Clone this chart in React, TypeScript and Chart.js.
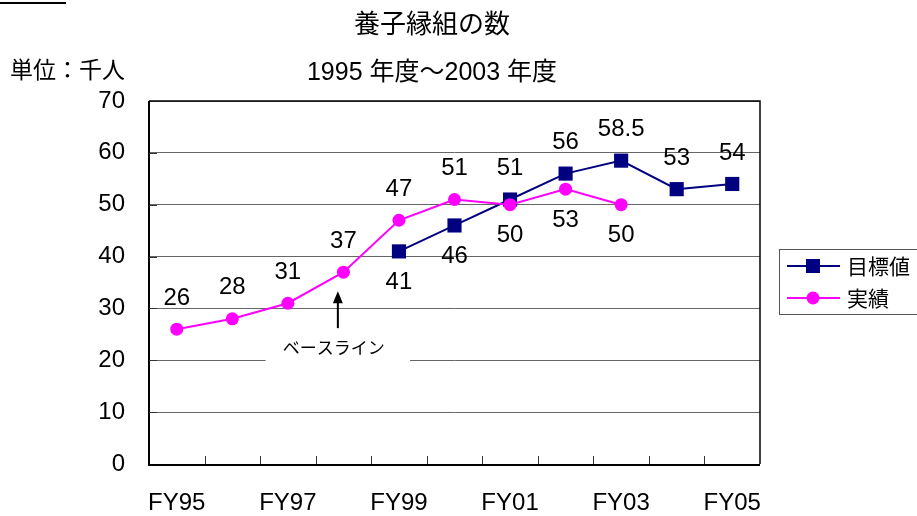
import React, { useEffect, useRef } from 'react';
import { Chart, registerables } from 'chart.js';

Chart.register(...registerables);

// ---- data ----
const CATEGORIES = ['FY95', 'FY96', 'FY97', 'FY98', 'FY99', 'FY00', 'FY01', 'FY02', 'FY03', 'FY04', 'FY05'];
const TARGET: (number | null)[] = [null, null, null, null, 41, 46, 51, 56, 58.5, 53, 54];
const ACTUAL: (number | null)[] = [26, 28, 31, 37, 47, 51, 50, 53, 50, null, null];
const Y_MIN = 0;
const Y_MAX = 70;
const Y_STEP = 10;
const TITLE = '養子縁組の数';
const SUBTITLE = '1995 年度～2003 年度';
const UNIT = '単位：千人';
const SERIES_NAMES = ['目標値', '実績'];
const ANNOTATION = 'ベースライン';

// label placement (true = below the point)
const TARGET_BELOW = [false, false, false, false, true, true, false, false, false, false, false];
const ACTUAL_BELOW = [false, false, false, false, false, false, true, true, true, false, false];

const NAVY = '#000080';
const MAGENTA = '#ff00ff';
const NUM_FONT = '"Liberation Sans", Arial, sans-serif';
const JP_FONT = '"Noto Sans CJK JP", sans-serif';
const MIX_FONT = '"Liberation Sans", "Noto Sans CJK JP", sans-serif';

const overlayPlugin = {
  id: 'overlay',
  afterDraw(chart: any) {
    const ctx: CanvasRenderingContext2D = chart.ctx;
    const { left, right, top, bottom } = chart.chartArea;
    const xs = chart.scales.x;
    const ys = chart.scales.y;
    ctx.save();

    // plot border
    ctx.strokeStyle = '#000';
    ctx.lineWidth = 1.5;
    ctx.beginPath();
    ctx.moveTo(left, top);
    ctx.lineTo(right, top);
    ctx.lineTo(right, bottom);
    ctx.stroke();
    ctx.lineWidth = 2;
    ctx.beginPath();
    ctx.moveTo(left, top);
    ctx.lineTo(left, bottom + 1);
    ctx.lineTo(right, bottom + 1);
    ctx.stroke();

    // inside tick marks on x axis (between categories)
    ctx.lineWidth = 1;
    ctx.strokeStyle = '#333';
    for (let i = 1; i < CATEGORIES.length; i++) {
      const x = Math.round((xs.getPixelForValue(i - 1) + xs.getPixelForValue(i)) / 2) + 0.5;
      ctx.beginPath();
      ctx.moveTo(x, bottom);
      ctx.lineTo(x, bottom - 8);
      ctx.stroke();
    }
    // inside tick marks on y axis
    for (let v = Y_MIN + Y_STEP; v < Y_MAX; v += Y_STEP) {
      const y = Math.round(ys.getPixelForValue(v)) + 0.5;
      ctx.beginPath();
      ctx.moveTo(left, y);
      ctx.lineTo(left + 8, y);
      ctx.stroke();
    }

    // annotation: white box, text, arrow
    const bx1 = xs.getPixelForValue(1.6);
    const bx2 = xs.getPixelForValue(4.2);
    const by1 = ys.getPixelForValue(25.5);
    const by2 = ys.getPixelForValue(19.2);
    ctx.fillStyle = '#fff';
    ctx.fillRect(bx1, by1, bx2 - bx1, by2 - by1);
    ctx.fillStyle = '#000';
    ctx.font = `17px ${JP_FONT}`;
    ctx.textAlign = 'center';
    ctx.textBaseline = 'middle';
    const ax = xs.getPixelForValue(2.9);
    ctx.fillText(ANNOTATION, ax - 4, ys.getPixelForValue(22.5));
    const tipY = ys.getPixelForValue(33.3);
    const baseY = ys.getPixelForValue(26.2);
    ctx.strokeStyle = '#000';
    ctx.lineWidth = 2;
    ctx.beginPath();
    ctx.moveTo(ax, baseY);
    ctx.lineTo(ax, tipY + 8);
    ctx.stroke();
    ctx.beginPath();
    ctx.moveTo(ax, tipY);
    ctx.lineTo(ax - 5, tipY + 12);
    ctx.lineTo(ax + 5, tipY + 12);
    ctx.closePath();
    ctx.fill();

    // data labels
    ctx.font = `24px ${NUM_FONT}`;
    ctx.fillStyle = '#000';
    ctx.textAlign = 'center';
    ctx.textBaseline = 'middle';
    const series = [
      { data: TARGET, below: TARGET_BELOW, idx: 0 },
      { data: ACTUAL, below: ACTUAL_BELOW, idx: 1 },
    ];
    series.forEach((s) => {
      const meta = chart.getDatasetMeta(s.idx);
      s.data.forEach((v, i) => {
        if (v === null) return;
        const pt = meta.data[i];
        const y = s.below[i] ? pt.y + 31 : pt.y - 31;
        ctx.fillText(String(v), pt.x, y);
      });
    });

    // title, subtitle, unit
    ctx.fillStyle = '#000';
    ctx.textAlign = 'center';
    ctx.font = `26px ${JP_FONT}`;
    ctx.fillText(TITLE, 432, 23);
    ctx.font = `25px ${MIX_FONT}`;
    ctx.fillText(SUBTITLE, 432, 73);
    ctx.textAlign = 'left';
    ctx.font = `23px ${JP_FONT}`;
    ctx.fillText(UNIT, 10, 69);

    // cut-off underline at the very top-left
    ctx.lineWidth = 2;
    ctx.beginPath();
    ctx.moveTo(0, 3);
    ctx.lineTo(66, 3);
    ctx.stroke();

    // legend
    const lx = 779;
    const ly = 249;
    ctx.fillStyle = '#fff';
    ctx.fillRect(lx, ly, 160, 65);
    ctx.strokeStyle = '#555';
    ctx.lineWidth = 1;
    ctx.strokeRect(lx + 0.5, ly + 0.5, 160, 65);
    const rows = [
      { name: SERIES_NAMES[0], color: NAVY, y: ly + 17, shape: 'rect' },
      { name: SERIES_NAMES[1], color: MAGENTA, y: ly + 49, shape: 'circle' },
    ];
    rows.forEach((r) => {
      ctx.strokeStyle = r.color;
      ctx.lineWidth = 2;
      ctx.beginPath();
      ctx.moveTo(lx + 8, r.y);
      ctx.lineTo(lx + 61, r.y);
      ctx.stroke();
      ctx.fillStyle = r.color;
      if (r.shape === 'rect') {
        ctx.fillRect(lx + 27, r.y - 7, 14, 14);
      } else {
        ctx.beginPath();
        ctx.arc(lx + 34, r.y, 6.5, 0, Math.PI * 2);
        ctx.fill();
      }
      ctx.fillStyle = '#000';
      ctx.font = `21px ${JP_FONT}`;
      ctx.textAlign = 'left';
      ctx.textBaseline = 'middle';
      ctx.fillText(r.name, lx + 68, r.y);
    });

    ctx.restore();
  },
};

export default function App() {
  const canvasRef = useRef<HTMLCanvasElement | null>(null);

  useEffect(() => {
    if (!canvasRef.current) return;
    const chart = new Chart(canvasRef.current, {
      type: 'line',
      data: {
        labels: CATEGORIES,
        datasets: [
          {
            label: SERIES_NAMES[0],
            data: TARGET,
            borderColor: NAVY,
            backgroundColor: NAVY,
            borderWidth: 2,
            pointStyle: 'rect',
            pointRadius: 10,
            pointBorderWidth: 0,
            pointBackgroundColor: NAVY,
            tension: 0,
            spanGaps: false,
            order: 2,
          },
          {
            label: SERIES_NAMES[1],
            data: ACTUAL,
            borderColor: MAGENTA,
            backgroundColor: MAGENTA,
            borderWidth: 2,
            pointStyle: 'circle',
            pointRadius: 6.5,
            pointBorderWidth: 0,
            pointBackgroundColor: MAGENTA,
            tension: 0,
            spanGaps: false,
            order: 1,
          },
        ],
      },
      options: {
        responsive: false,
        animation: false,
        events: [],
        layout: { padding: { top: 101, right: 157, left: 0, bottom: 0 } },
        plugins: {
          legend: { display: false },
          title: { display: false },
          tooltip: { enabled: false },
        },
        scales: {
          x: {
            offset: true,
            grid: { display: false, drawTicks: false },
            border: { display: false },
            ticks: {
              autoSkip: false,
              maxRotation: 0,
              padding: 25,
              color: '#000',
              font: { family: NUM_FONT, size: 24 },
              callback: (_v: any, i: number) => (i % 2 === 0 ? CATEGORIES[i] : ''),
            },
            afterFit: (scale: any) => {
              scale.height = 52;
            },
          },
          y: {
            min: Y_MIN,
            max: Y_MAX,
            grid: { color: '#666666', lineWidth: 1, drawTicks: false },
            border: { display: false },
            ticks: {
              stepSize: Y_STEP,
              padding: 24,
              color: '#000',
              font: { family: NUM_FONT, size: 24 },
            },
            afterFit: (scale: any) => {
              scale.width = 149;
            },
          },
        },
      },
      plugins: [overlayPlugin],
    });
    return () => chart.destroy();
  }, []);

  return (
    <div style={{ position: 'fixed', left: 0, top: 0, width: 917, height: 516, background: '#fff' }}>
      <canvas ref={canvasRef} width={917} height={516} style={{ display: 'block' }} />
    </div>
  );
}
